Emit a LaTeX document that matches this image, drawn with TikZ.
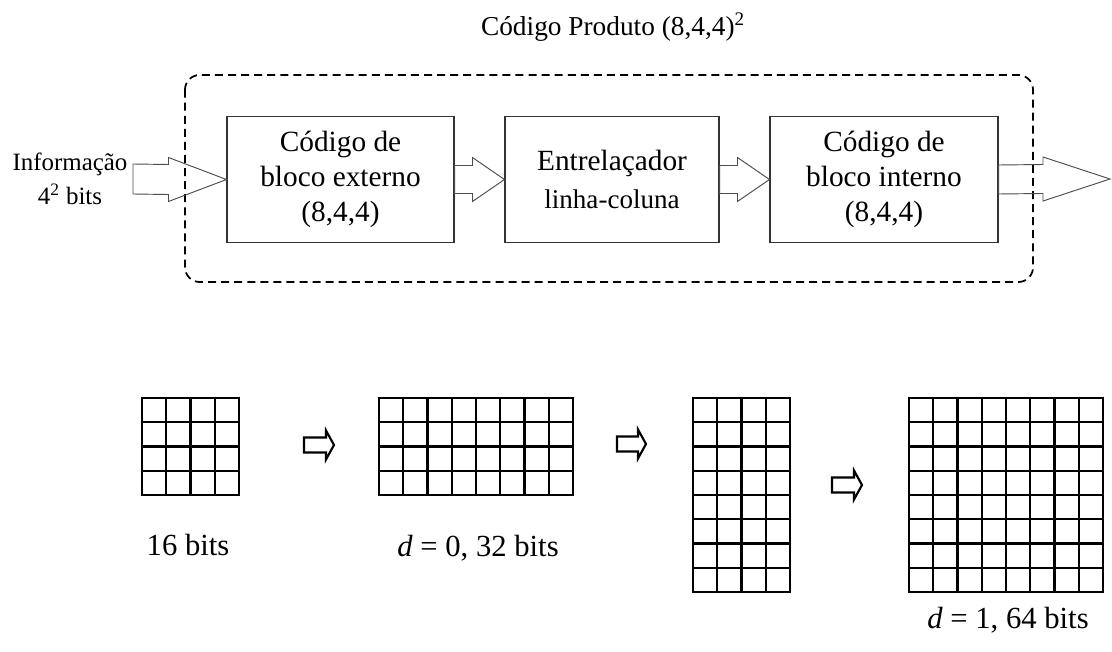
\documentclass[tikz,border=0pt]{standalone}
\usepackage{fontspec}
\setmainfont{Liberation Serif}
\usetikzlibrary{calc}

% seta larga: estilo, inicio, ponta, meia haste, meia cabeca, comprimento da cabeca
\newcommand{\setalarga}[6]{%
  \draw[#1] ($(#2)+(0,-#4)$) -- ($(#3)+(-#6,-#4)$) -- ($(#3)+(-#6,-#5)$) -- (#3)
    -- ($(#3)+(-#6,#5)$) -- ($(#3)+(-#6,#4)$) -- ($(#2)+(0,#4)$) -- cycle;}

% grade de bits: canto x, canto y, colunas, linhas
\newcommand{\grade}[4]{%
  \foreach \i in {0,...,#3} \draw[linhagrade] (#1+\i*24.25,#2) -- (#1+\i*24.25,#2+#4*24.25);
  \foreach \j in {0,...,#4} \draw[linhagrade] (#1,#2+\j*24.25) -- (#1+#3*24.25,#2+\j*24.25);}

\begin{document}
\begin{tikzpicture}[x=0.75pt,y=-0.75pt,
    bloco/.style={draw=black!80, line width=0.8pt, inner sep=0pt, minimum height=94pt,
      align=center, font=\fontsize{22}{26}\selectfont},
    seta/.style={draw=black!70, line width=0.7pt, line join=miter},
    setinha/.style={draw=black, line width=1.6pt, line join=miter},
    linhagrade/.style={line width=1.8pt, line cap=rect},
    rotulo/.style={font=\fontsize{23}{27}\selectfont}]
        \useasboundingbox (0,0) rectangle (1112,652);

        % Titulo e caixa tracejada
        \node[font=\fontsize{20.5}{24}\selectfont] (titulo) at (613,27) {Código Produto (8,4,4)\textsuperscript{2}};
        \draw[dashed, dash pattern=on 6pt off 3.8pt, line width=1.3pt, rounded corners=11pt]
            (185,75) rectangle (1033,282);

        % Blocos
        \node[bloco, minimum width=170.25pt] (ext) at (340.5,179.5) {Código de\\bloco externo\\(8,4,4)};
        \node[bloco, minimum width=160.5pt] (entr) at (612,179.5)
            {Entrelaçador\\[3pt]{\fontsize{20.3}{24}\selectfont linha-coluna}};
        \node[bloco, minimum width=171pt] (int) at (884,179.5) {Código de\\bloco interno\\(8,4,4)};

        % Entrada e saida
        \node[align=center, font=\fontsize{18.7}{25}\selectfont] (info) at (70,179) {Informação\\4\textsuperscript{2} bits};
        \coordinate (ent) at (133,179);
        \coordinate (saida) at (1110,179);

        % Setas entre os blocos
        \setalarga{seta}{ent}{ext.west}{15}{22}{58}
        \setalarga{seta}{ext.east}{entr.west}{14}{22}{32}
        \setalarga{seta}{entr.east}{int.west}{14}{22}{32}
        \setalarga{seta}{int.east}{saida}{14.5}{22}{67}

        % Grades de bits
        \grade{142}{398}{4}{4}
        \grade{379}{398}{8}{4}
        \grade{693}{398}{4}{8}
        \grade{909}{398}{8}{8}

        % Setas pequenas
        \coordinate (a1) at (304,445);  \coordinate (b1) at (334,445);
        \coordinate (a2) at (617,444);  \coordinate (b2) at (646,444);
        \coordinate (a3) at (832,485);  \coordinate (b3) at (862,485);
        \setalarga{setinha}{a1}{b1}{7.5}{14.5}{8}
        \setalarga{setinha}{a2}{b2}{7.5}{14.5}{8}
        \setalarga{setinha}{a3}{b3}{7.5}{14.5}{8}

        % Legendas
        \node[rotulo] (l16) at (188,545) {16 bits};
        \node[rotulo] (l32) at (478,548) {\textit{d} = 0, 32 bits};
        \node[rotulo] (l64) at (1008,620) {\textit{d} = 1, 64 bits};
    \end{tikzpicture}
\end{document}
